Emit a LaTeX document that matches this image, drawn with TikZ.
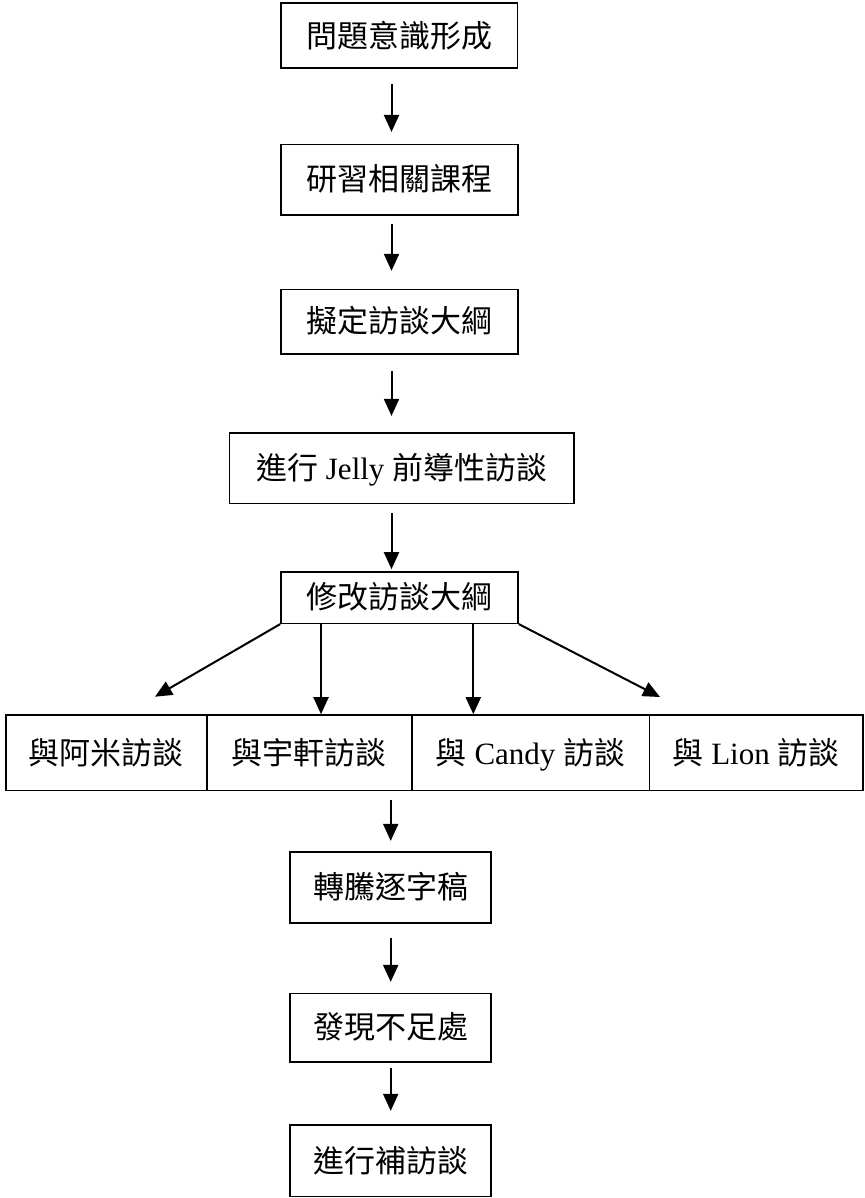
\documentclass[tikz,border=0pt]{standalone}
\usepackage{fontspec}
\setmainfont{Liberation Serif}
\newfontfamily\cjk{Noto Sans CJK TC}
\usetikzlibrary{arrows.meta}
\tikzset{
  box/.style={draw=black, line width=1.6pt, inner sep=0pt, text height=26.5pt, text depth=4pt, font=\fontsize{31pt}{36pt}\selectfont},
  arr/.style={draw=black, line width=2pt, -{Triangle[width=15pt,length=17pt]}}
}
\begin{document}
\begin{tikzpicture}[x=1pt,y=-1pt]
\useasboundingbox (0,0) rectangle (864,1198);
% upper chain
\node[box, minimum width=236.7pt, minimum height=65pt] (b1) at (399.3,35.8) {\cjk 問題意識形成};
\node[box, minimum width=237pt, minimum height=70.7pt] (b2) at (399.5,179.7) {\cjk 研習相關課程};
\node[box, minimum width=237pt, minimum height=64.5pt] (b3) at (399.3,321.7) {\cjk 擬定訪談大綱};
\node[box, minimum width=344.7pt, minimum height=70.6pt] (b4) at (401.7,468) {{\cjk 進行} Jelly {\cjk 前導性訪談}};
\node[box, minimum width=237pt, minimum height=51.6pt] (b5) at (399.5,597.5) {\cjk 修改訪談大綱};
% row
\node[box, minimum width=200.7pt, minimum height=75.5pt] (r1) at (106.35,752.75) {\cjk 與阿米訪談};
\node[box, minimum width=205pt, minimum height=75.5pt] (r2) at (309.2,752.75) {\cjk 與宇軒訪談};
\node[box, minimum width=237.6pt, minimum height=75.5pt] (r3) at (530.5,752.75) {{\cjk 與} Candy {\cjk 訪談}};
\node[box, minimum width=213.5pt, minimum height=75.5pt] (r4) at (756.05,752.75) {{\cjk 與} Lion {\cjk 訪談}};
% lower chain
\node[box, minimum width=201pt, minimum height=71pt] (b6) at (390.5,887.2) {\cjk 轉騰逐字稿};
\node[box, minimum width=201pt, minimum height=68.4pt] (b7) at (390.5,1027.5) {\cjk 發現不足處};
\node[box, minimum width=201pt, minimum height=71.7pt] (b8) at (390.5,1160.8) {\cjk 進行補訪談};
% axis and free ends
\coordinate (ax) at (391.5,0);
\coordinate (lx) at (390.7,0);
\coordinate (vl) at (321,0);
\coordinate (vr) at (473.3,0);
\coordinate (dl) at (155,696.7);
\coordinate (dr) at (660,697);
% connectors
\draw[arr, shorten <=14.7pt, shorten >=11.6pt] (b1.south -| ax) -- (b2.north -| ax);
\draw[arr, shorten <=7.7pt, shorten >=17.8pt] (b2.south -| ax) -- (b3.north -| ax);
\draw[arr, shorten <=16pt, shorten >=16pt] (b3.south -| ax) -- (b4.north -| ax);
\draw[arr, shorten <=9pt, shorten >=1.7pt] (b4.south -| ax) -- (b5.north -| ax);
\draw[arr] (b5.south west) -- (dl);
\draw[arr] (b5.south -| vl) -- (r2.north -| vl);
\draw[arr] (b5.south -| vr) -- (r3.north -| vr);
\draw[arr] (b5.south east) -- (dr);
\draw[arr, shorten <=8.8pt, shorten >=10pt] (r2.south -| lx) -- (b6.north -| lx);
\draw[arr, shorten <=14pt, shorten >=10.6pt] (b6.south -| lx) -- (b7.north -| lx);
\draw[arr, shorten <=5.6pt, shorten >=13.3pt] (b7.south -| lx) -- (b8.north -| lx);
\end{tikzpicture}
\end{document}
